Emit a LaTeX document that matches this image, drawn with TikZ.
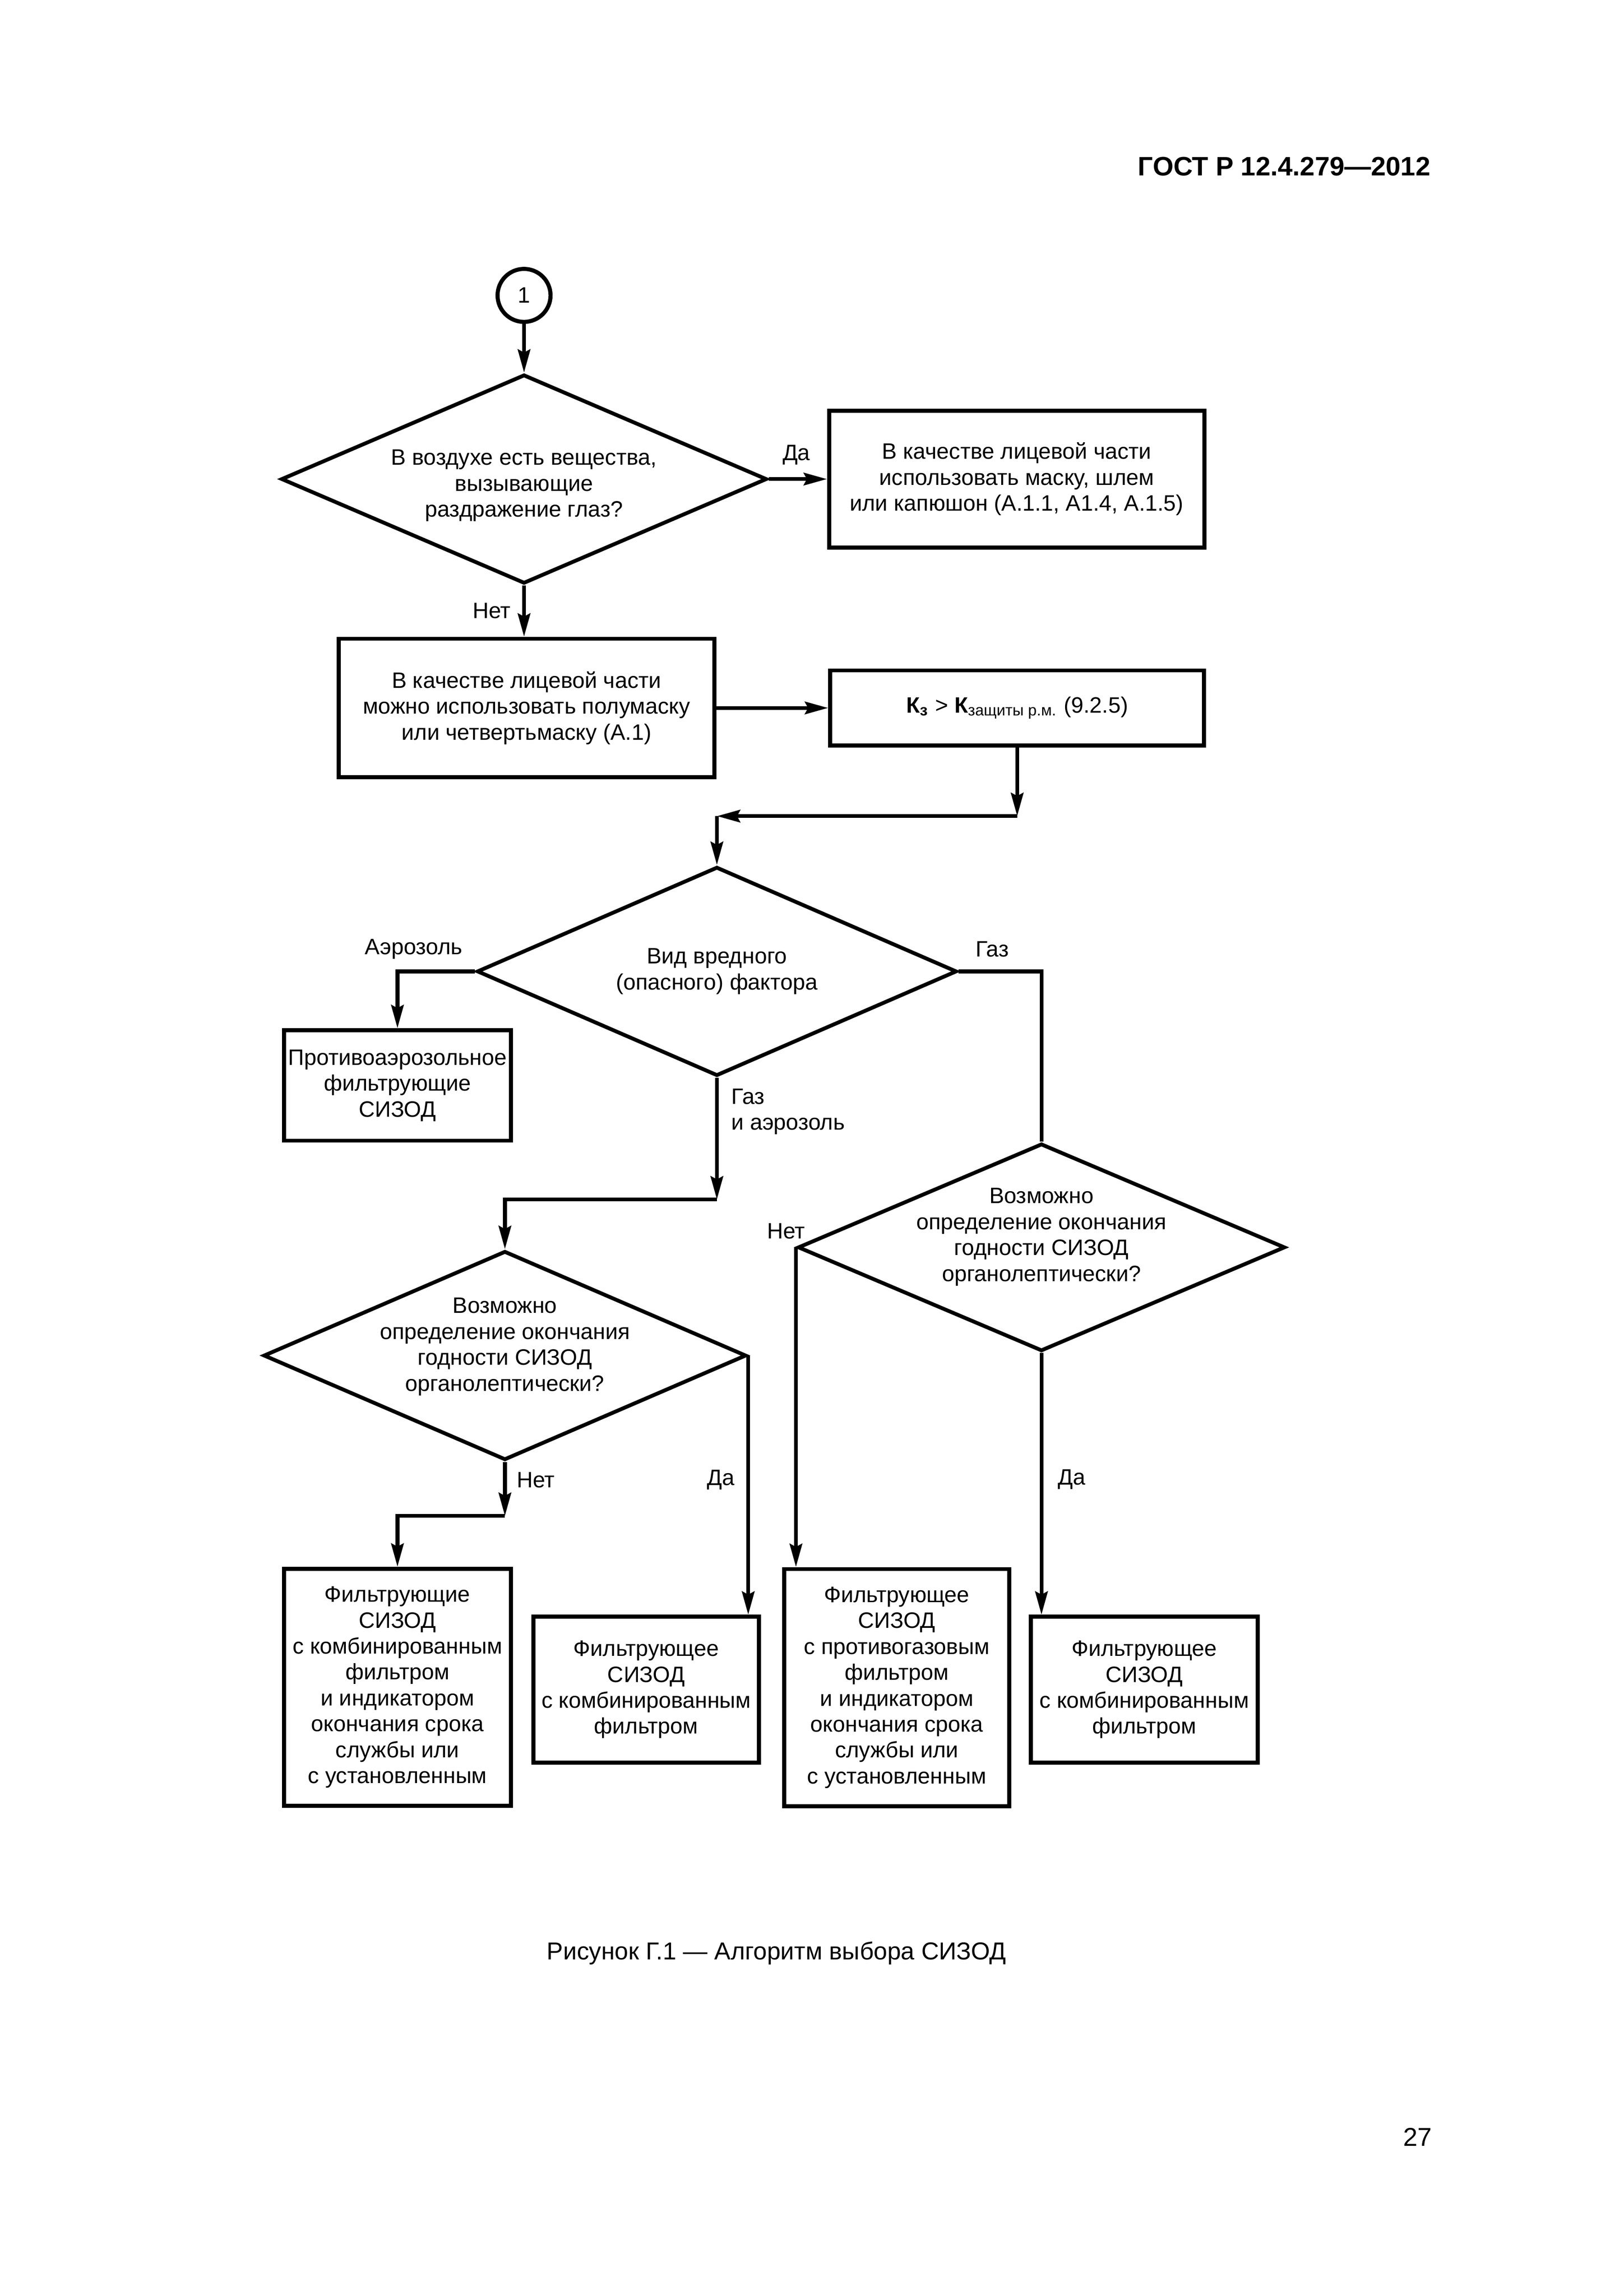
\documentclass[tikz,border=0pt]{standalone}
\usepackage{fontspec}
\setmainfont{Liberation Sans}
\usetikzlibrary{shapes,arrows.meta,positioning,calc}
\newcommand{\px}{0.019042cm}

\begin{document}
\begin{tikzpicture}[x=\px, y=-\px, line width=1.4pt,
	every node/.style={font=\fontsize{8.2}{9.54}\selectfont, inner sep=0pt, align=center},
	blk/.style={rectangle, draw, line width=1.5pt},
	ask/.style={diamond, draw},
	lnk/.style={-{Stealth[length=3mm, width=1.6mm, inset=0.4mm]}}]
	\useasboundingbox (0,0) rectangle (1103,1560);
	\node[font=\fontsize{9.8}{11}\selectfont\bfseries, anchor=east] (gost) at (973,113) {ГОСТ Р 12.4.279—2012};

	\node[circle, draw, line width=1.5pt, minimum size=36*\px] (start) at (356,200.7) {1};
	\node[ask, minimum width=330*\px, minimum height=142*\px] (eyes) at (356,325.5) {};
	\node (eyestxt) at (356,330) {В воздухе есть вещества,\\вызывающие\\раздражение глаз?};
	\node[blk, minimum width=255*\px, minimum height=93*\px] (fullface) at (690.7,325.5) {В качестве лицевой части\\использовать маску, шлем\\или капюшон (А.1.1, А1.4, А.1.5)};
	\node[blk, minimum width=255*\px, minimum height=94*\px] (halfmask) at (357.7,481) {В качестве лицевой части\\можно использовать полумаску\\или четвертьмаску (А.1)};
	\node[blk, minimum width=254*\px, minimum height=51*\px] (kcheck) at (691,481) {\textbf{К\textsubscript{з}} > \textbf{К}\textsubscript{защиты р.м.} (9.2.5)};
	\coordinate (j1) at (691,554.5);
	\coordinate (j2) at (487,554.5);

	\node[ask, minimum width=326*\px, minimum height=142*\px] (factor) at (487,660) {};
	\node (factortxt) at (487,660) {Вид вредного\\(опасного) фактора};
	\node[blk, minimum width=154*\px, minimum height=75*\px] (aerosol) at (270,737.5) {Противоаэрозольное\\фильтрующие\\СИЗОД};
	\node[ask, minimum width=331*\px, minimum height=141*\px] (gasq) at (707.5,847.5) {};
	\node (gasqtxt) at (707.5,840.5) {Возможно\\определение окончания\\годности СИЗОД\\органолептически?};
	\coordinate (j3) at (487,815);
	\node[ask, minimum width=328*\px, minimum height=142*\px] (mixq) at (343,921) {};
	\node (mixqtxt) at (343,915) {Возможно\\определение окончания\\годности СИЗОД\\органолептически?};
	\coordinate (j4) at (343,1030);

	\node[blk, minimum width=154*\px, minimum height=161*\px] (combind) at (270,1146.4) {Фильтрующие\\СИЗОД\\с комбинированным\\фильтром\\и индикатором\\окончания срока\\службы или\\с установленным};
	\node[blk, minimum width=153*\px, minimum height=99*\px] (comb1) at (439,1148) {Фильтрующее\\СИЗОД\\с комбинированным\\фильтром};
	\node[blk, minimum width=153*\px, minimum height=161*\px] (gasind) at (609.2,1146.6) {Фильтрующее\\СИЗОД\\с противогазовым\\фильтром\\и индикатором\\окончания срока\\службы или\\с установленным};
	\node[blk, minimum width=154*\px, minimum height=99*\px] (comb2) at (777.3,1148) {Фильтрующее\\СИЗОД\\с комбинированным\\фильтром};

	\draw[lnk] (start) -- (eyes.north);
	\draw[lnk] (eyes.east) -- (fullface.west);
	\draw[lnk] (eyes.south) -- (eyes.south |- halfmask.north);
	\draw[lnk] (halfmask.east) -- (halfmask.east -| kcheck.west);
	\draw[lnk] (kcheck.south) -- (j1);
	\draw[lnk] (j1) -- (j2);
	\draw[lnk] (j2) -- (factor.north);
	\draw[lnk] (factor.west) -| (aerosol.north);
	\draw (factor.east) -| (gasq.north);
	\draw[lnk] (factor.south) -- (j3);
	\draw[lnk] (j3) -| (mixq.north);
	\draw[lnk] (mixq.south) -- (j4);
	\draw[lnk] (j4) -| (combind.north);
	\draw[lnk] (mixq.east) -- (mixq.east |- comb1.north);
	\draw[lnk] (gasq.west) -- (gasq.west |- gasind.north);
	\draw[lnk] (gasq.south) -- (gasq.south |- comb2.north);

	\node (yes1) at (541,309) {Да};
	\node (no1) at (334,415) {Нет};
	\node (aerolbl) at (281,645) {Аэрозоль};
	\node (gaslbl) at (674,645) {Газ};
	\node[anchor=west, align=left] (mixlbl) at (495.6,755.3) {Газ\\и аэрозоль};
	\node (no2) at (534,836.5) {Нет};
	\node (yes2) at (728,1005) {Да};
	\node (no3) at (364,1005.5) {Нет};
	\node (yes3) at (489.8,1005.5) {Да};

	\node[font=\fontsize{9}{11}\selectfont] (caption) at (527.5,1327) {Рисунок Г.1 — Алгоритм выбора СИЗОД};
	\node[font=\fontsize{9.5}{11}\selectfont] (page) at (963,1452) {27};
\end{tikzpicture}
\end{document}
